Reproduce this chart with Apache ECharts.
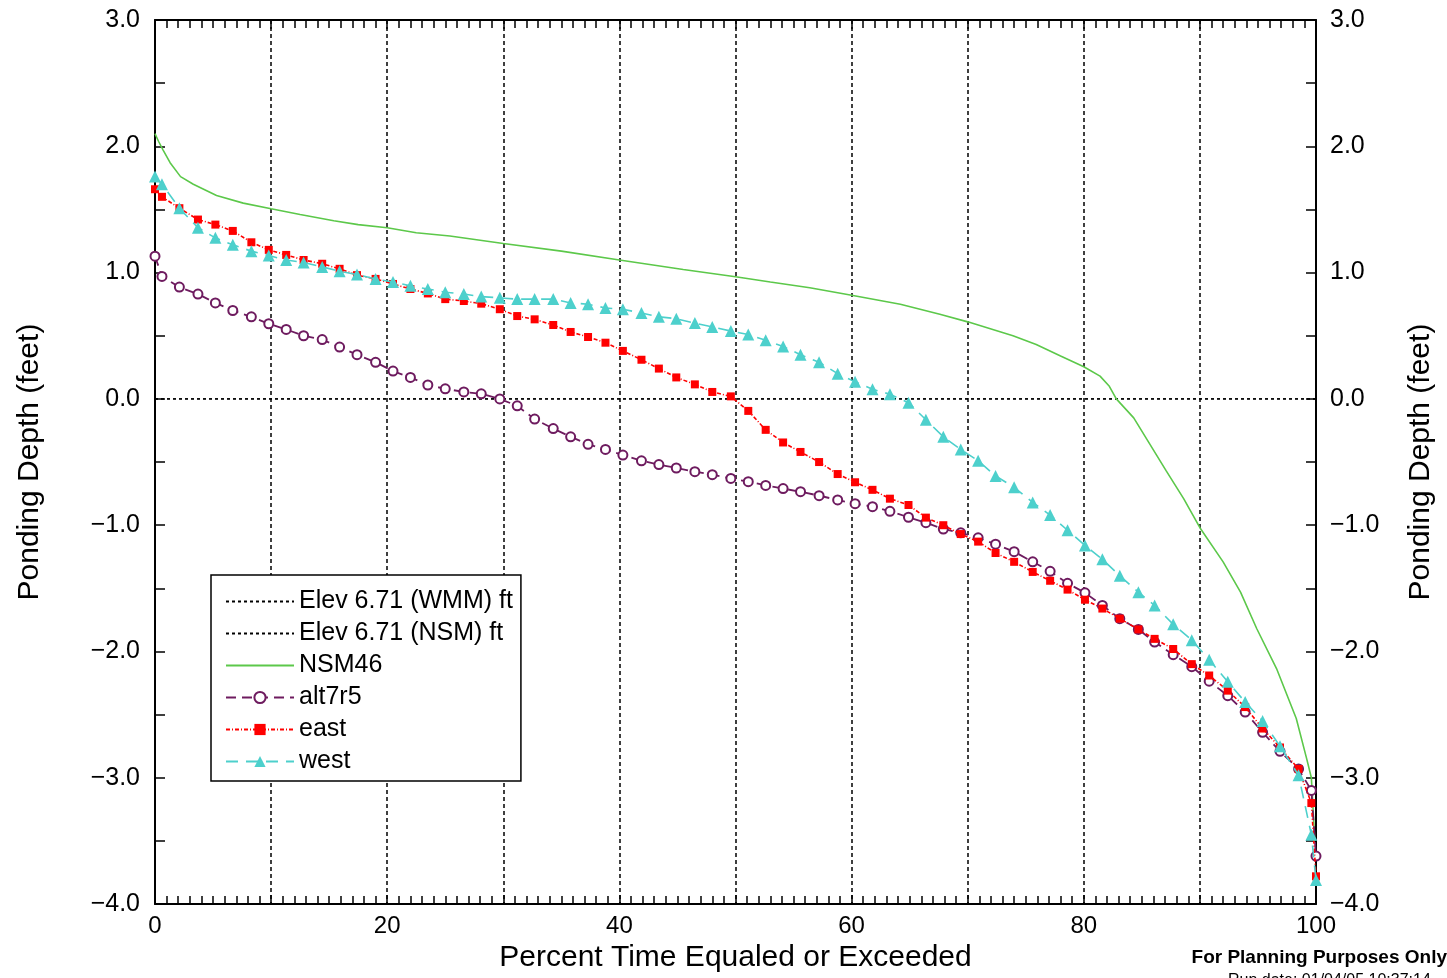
<!DOCTYPE html>
<html>
<head>
<meta charset="utf-8">
<script src="https://cdn.jsdelivr.net/npm/echarts@6/dist/echarts.min.js"></script>
<style>html,body{margin:0;padding:0;background:#fff}#c{width:1447px;height:978px}</style>
</head>
<body>
<div id="c"></div>
<script>
// ---- data ----
const xTicks = [0, 20, 40, 60, 80, 100];
const yTicks = [-4, -3, -2, -1, 0, 1, 2, 3];
const seriesNames = ['Elev 6.71 (WMM) ft', 'Elev 6.71 (NSM) ft', 'NSM46', 'alt7r5', 'east', 'west'];

const elevX = [0, 100];
const elevWMM = [0, 0];
const elevNSM = [0, 0];

const nsmX = [0, 0.3, 0.7, 1.3, 2.2, 3.3, 5.3, 7.6, 10, 12.5, 15.4, 17.5, 20, 22.5, 25.4, 30, 35, 40, 45.5, 50, 53, 56.4, 60, 64.2, 67.6, 70, 73.9, 75.9, 78, 80, 81.4, 82.2, 82.8, 84.3, 85.7, 87.1, 88.6, 90, 92, 93.5, 94.9, 96.6, 98.3, 99.2, 99.6, 99.9];
const nsm46 = [2.10, 2.04, 1.97, 1.87, 1.76, 1.70, 1.61, 1.55, 1.505, 1.46, 1.41, 1.38, 1.355, 1.315, 1.29, 1.23, 1.17, 1.10, 1.025, 0.967, 0.925, 0.88, 0.82, 0.75, 0.67, 0.61, 0.50, 0.43, 0.34, 0.255, 0.18, 0.10, 0.0, -0.15, -0.36, -0.57, -0.79, -1.02, -1.29, -1.53, -1.82, -2.135, -2.53, -2.85, -3.0, -3.5];

const pctX = [0, 0.6, 2.1, 3.7, 5.2, 6.7, 8.3, 9.8, 11.3, 12.8, 14.4, 15.9, 17.4, 19.0, 20.5, 22.0, 23.5, 25.0, 26.6, 28.1, 29.7, 31.2, 32.7, 34.3, 35.8, 37.3, 38.8, 40.3, 41.9, 43.4, 44.9, 46.5, 48.0, 49.6, 51.1, 52.6, 54.1, 55.6, 57.2, 58.8, 60.3, 61.8, 63.3, 64.9, 66.4, 67.9, 69.4, 70.9, 72.4, 74.0, 75.6, 77.1, 78.6, 80.1, 81.6, 83.1, 84.7, 86.1, 87.7, 89.3, 90.8, 92.4, 93.9, 95.4, 96.9, 98.5, 99.6, 100];

const alt7r5 = [1.13, 0.97, 0.885, 0.83, 0.76, 0.70, 0.65, 0.595, 0.55, 0.50, 0.47, 0.41, 0.35, 0.29, 0.22, 0.17, 0.11, 0.08, 0.055, 0.04, 0.0, -0.055, -0.16, -0.235, -0.30, -0.36, -0.40, -0.445, -0.49, -0.52, -0.547, -0.576, -0.60, -0.63, -0.655, -0.685, -0.71, -0.735, -0.766, -0.80, -0.83, -0.853, -0.89, -0.937, -0.98, -1.03, -1.06, -1.10, -1.15, -1.21, -1.29, -1.365, -1.46, -1.535, -1.635, -1.74, -1.825, -1.925, -2.025, -2.12, -2.235, -2.35, -2.48, -2.64, -2.79, -2.93, -3.1, -3.62];

const east = [1.66, 1.60, 1.51, 1.42, 1.38, 1.33, 1.24, 1.18, 1.14, 1.10, 1.07, 1.03, 0.98, 0.95, 0.91, 0.87, 0.835, 0.79, 0.775, 0.754, 0.71, 0.656, 0.63, 0.585, 0.53, 0.49, 0.445, 0.38, 0.31, 0.24, 0.17, 0.115, 0.055, 0.02, -0.095, -0.245, -0.345, -0.42, -0.50, -0.595, -0.66, -0.72, -0.79, -0.84, -0.94, -1.0, -1.07, -1.13, -1.22, -1.29, -1.37, -1.44, -1.51, -1.59, -1.66, -1.74, -1.825, -1.90, -1.98, -2.10, -2.19, -2.31, -2.44, -2.61, -2.76, -2.93, -3.2, -3.78];

const west = [1.76, 1.70, 1.51, 1.355, 1.275, 1.22, 1.17, 1.135, 1.10, 1.08, 1.045, 1.01, 0.985, 0.95, 0.925, 0.895, 0.87, 0.845, 0.83, 0.81, 0.80, 0.79, 0.79, 0.79, 0.76, 0.75, 0.72, 0.71, 0.68, 0.65, 0.635, 0.60, 0.57, 0.537, 0.51, 0.465, 0.415, 0.35, 0.29, 0.20, 0.135, 0.077, 0.037, -0.03, -0.165, -0.30, -0.40, -0.49, -0.61, -0.70, -0.82, -0.92, -1.04, -1.16, -1.27, -1.40, -1.53, -1.635, -1.785, -1.91, -2.065, -2.24, -2.40, -2.55, -2.75, -2.98, -3.45, -3.81];

// ---- build ----
const zip = (xs, ys) => xs.map((x, i) => [x, ys[i]]);
const FONT = '"Liberation Sans", Arial, sans-serif';
const fmtY = v => v.toFixed(1).replace('-', '\u2212');
const CLEAR = 'rgba(0,0,0,0)';

const chart = echarts.init(document.getElementById('c'), null, {renderer: 'canvas'});

const xCommon = {
  type: 'value', min: 0, max: 100, interval: 10,
  axisLine: {show: true, onZero: false, lineStyle: {color: '#000', width: 2}},
  axisTick: {show: true, inside: true, length: 9, lineStyle: {color: '#000', width: 1.5}},
  minorTick: {show: true, splitNumber: 10, length: 8, lineStyle: {color: '#000', width: 1.5}},
};
const yCommon = {
  type: 'value', min: -4, max: 3, interval: 1,
  axisLine: {show: true, onZero: false, lineStyle: {color: '#000', width: 2}},
  axisTick: {show: true, inside: true, length: 10, lineStyle: {color: '#000', width: 1.5}},
  minorTick: {show: true, splitNumber: 2, length: 10, lineStyle: {color: '#000', width: 1.5}},
  splitLine: {show: false},
  nameLocation: 'middle', nameRotate: 90,
  nameTextStyle: {fontFamily: FONT, fontSize: 30, color: '#000'},
  axisLabel: {fontFamily: FONT, fontSize: 25, color: '#000', formatter: fmtY}
};

chart.setOption({
  backgroundColor: '#fff',
  animation: false,
  grid: {left: 155, right: 131, top: 20, bottom: 72, containLabel: false},
  xAxis: [
    Object.assign({}, xCommon, {
      position: 'bottom',
      name: 'Percent Time Equaled or Exceeded', nameLocation: 'middle', nameGap: 38,
      nameTextStyle: {fontFamily: FONT, fontSize: 30, color: '#000'},
      axisLabel: {fontFamily: FONT, fontSize: 24, color: '#000', margin: 10,
        formatter: v => xTicks.indexOf(v) >= 0 ? String(v) : ''},
      splitLine: {show: true, lineStyle: {color: '#000', width: 1.5, type: [4, 3]}}
    }),
    Object.assign({}, xCommon, {
      position: 'top', axisLabel: {show: false}, splitLine: {show: false}
    })
  ],
  yAxis: [
    Object.assign({}, yCommon, {position: 'left', name: 'Ponding Depth (feet)', nameGap: 110,
      axisLabel: Object.assign({}, yCommon.axisLabel, {margin: 15})}),
    Object.assign({}, yCommon, {position: 'right', name: 'Ponding Depth (feet)', nameGap: 90,
      axisLabel: Object.assign({}, yCommon.axisLabel, {margin: 14})})
  ],
  legend: {
    orient: 'vertical', left: 211, top: 575,
    data: seriesNames,
    itemWidth: 68, itemHeight: 14, itemGap: 7,
    padding: [14, 8, 7, 14],
    borderColor: '#000', borderWidth: 1.5, backgroundColor: '#fff',
    textStyle: {fontFamily: FONT, fontSize: 25, color: '#000'},
    selectedMode: false
  },
  series: [
    {name: seriesNames[0], type: 'line', data: zip(elevX, elevWMM), symbol: 'circle', showSymbol: false, z: 1,
      lineStyle: {color: '#000', width: 1.3, type: [3, 3]}, itemStyle: {color: CLEAR, borderWidth: 0}},
    {name: seriesNames[1], type: 'line', data: zip(elevX, elevNSM), symbol: 'circle', showSymbol: false, z: 1,
      lineStyle: {color: '#000', width: 1.3, type: [3, 3]}, itemStyle: {color: CLEAR, borderWidth: 0}},
    {name: seriesNames[2], type: 'line', data: zip(nsmX, nsm46), symbol: 'circle', showSymbol: false, z: 2,
      lineStyle: {color: '#5cc84a', width: 1.6}, itemStyle: {color: CLEAR, borderWidth: 0}},
    {name: seriesNames[3], type: 'line', data: zip(pctX, alt7r5), symbol: 'emptyCircle', symbolSize: 9, z: 3,
      lineStyle: {color: '#6e1b5f', width: 1.8, type: [10, 6]},
      itemStyle: {color: '#6e1b5f', borderWidth: 1.6}},
    {name: seriesNames[4], type: 'line', data: zip(pctX, east), symbol: 'rect', symbolSize: 8, z: 4,
      lineStyle: {color: '#ff0000', width: 1.6, type: [4, 2, 1, 2]},
      itemStyle: {color: '#ff0000'}},
    {name: seriesNames[5], type: 'line', data: zip(pctX, west), symbol: 'triangle', symbolSize: 12, z: 5,
      lineStyle: {color: '#4dd0cc', width: 1.6, type: [12, 8]},
      itemStyle: {color: '#4dd0cc'}}
  ],
  graphic: [
    {type: 'text', right: 0, top: 948, style: {text: 'For Planning Purposes Only', font: 'bold 19px ' + FONT, fill: '#000'}},
    {type: 'text', left: 1228, top: 973, style: {text: 'Run date: 01/04/05 10:37:14', font: '16px ' + FONT, fill: '#000'}}
  ]
});
</script>
</body>
</html>
